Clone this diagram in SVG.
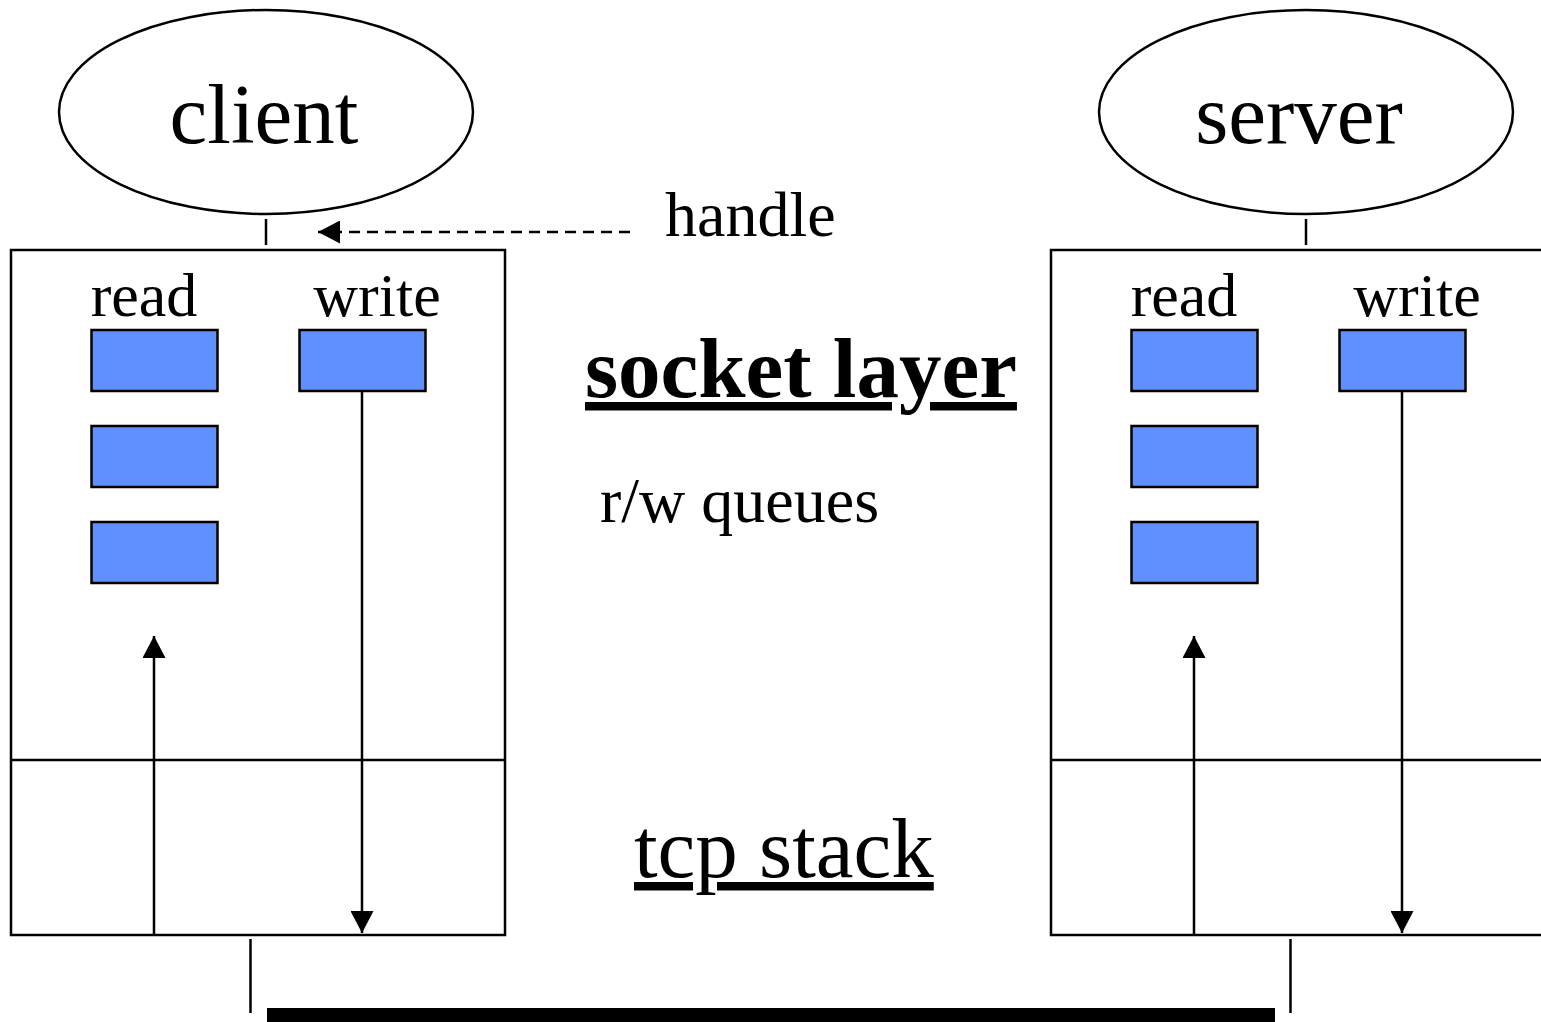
<svg xmlns="http://www.w3.org/2000/svg" width="1541" height="1022" viewBox="0 0 1541 1022">
<defs>
<style>
.t{font-family:"Liberation Serif","Times New Roman",serif;fill:#000}
.ln{stroke:#000;stroke-width:2.5;fill:none}
.q{fill:#608FFF;stroke:#000;stroke-width:2.5}
.box{fill:#fff;stroke:#000;stroke-width:2.5}
</style>
<marker id="ah" viewBox="0 0 22 23" refX="22" refY="11.5" markerWidth="22" markerHeight="23" markerUnits="userSpaceOnUse" orient="auto">
<path d="M0,0 L22,11.5 L0,23 Z" fill="#000"/>
</marker>
</defs>
<rect width="1541" height="1022" fill="#fff"/>

<g id="client">
<ellipse cx="266" cy="112" rx="207" ry="102" class="ln"/>
<text class="t" x="264" y="143" font-size="85" text-anchor="middle">client</text>
</g>
<g id="server">
<ellipse cx="1306" cy="112" rx="207" ry="102" class="ln"/>
<text class="t" x="1299" y="143" font-size="85" text-anchor="middle">server</text>
</g>

<g id="client-socket">
<rect x="11" y="250" width="494" height="685" class="box"/>
<line x1="11" y1="760" x2="505" y2="760" class="ln"/>
<text class="t" x="144" y="316" font-size="62" text-anchor="middle">read</text>
<text class="t" x="377" y="316" font-size="62" text-anchor="middle">write</text>
<rect x="91.5" y="330" width="126" height="61" class="q"/>
<rect x="91.5" y="426" width="126" height="61" class="q"/>
<rect x="91.5" y="522" width="126" height="61" class="q"/>
<rect x="299.5" y="330" width="126" height="61" class="q"/>
</g>
<g id="server-socket">
<rect x="1051" y="250" width="500" height="685" class="box"/>
<line x1="1051" y1="760" x2="1545" y2="760" class="ln"/>
<text class="t" x="1184" y="316" font-size="62" text-anchor="middle">read</text>
<text class="t" x="1417" y="316" font-size="62" text-anchor="middle">write</text>
<rect x="1131.5" y="330" width="126" height="61" class="q"/>
<rect x="1131.5" y="426" width="126" height="61" class="q"/>
<rect x="1131.5" y="522" width="126" height="61" class="q"/>
<rect x="1339.5" y="330" width="126" height="61" class="q"/>
</g>

<g id="labels">
<text class="t" x="665" y="236" font-size="64">handle</text>
<text class="t" x="585" y="397" font-size="85" font-weight="bold" text-decoration="underline">socket layer</text>
<text class="t" x="600" y="522" font-size="64">r/w queues</text>
<text class="t" x="634" y="877" font-size="85" text-decoration="underline">tcp stack</text>
</g>

<g id="network">
<rect x="267" y="1008" width="1008" height="16" fill="#000"/>
</g>

<g id="connectors">
<line x1="266" y1="219" x2="266" y2="245" class="ln"/>
<line x1="1306" y1="219" x2="1306" y2="245" class="ln"/>
<line x1="630" y1="232" x2="318" y2="232" class="ln" stroke-dasharray="11 7" marker-end="url(#ah)"/>
<line x1="154" y1="935" x2="154" y2="636" class="ln" marker-end="url(#ah)"/>
<line x1="362" y1="392" x2="362" y2="933" class="ln" marker-end="url(#ah)"/>
<line x1="1194" y1="935" x2="1194" y2="636" class="ln" marker-end="url(#ah)"/>
<line x1="1402" y1="392" x2="1402" y2="933" class="ln" marker-end="url(#ah)"/>
<line x1="250.5" y1="939" x2="250.5" y2="1013" class="ln"/>
<line x1="1290.5" y1="939" x2="1290.5" y2="1013" class="ln"/>
</g>
</svg>
